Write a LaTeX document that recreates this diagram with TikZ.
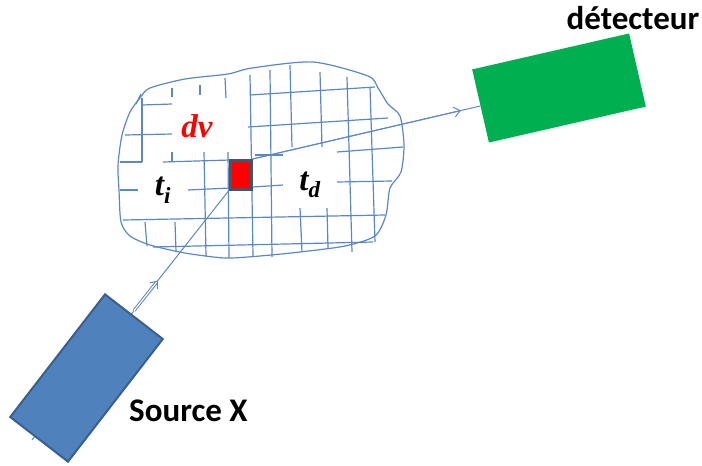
\documentclass[tikz,border=0pt]{standalone}
\usepackage{fontspec}
\usepackage{tikz}
\usetikzlibrary{arrows.meta,calc}
\setmainfont{Liberation Serif}
\newfontfamily\calibri{Carlito}
\definecolor{meshblue}{HTML}{5B87C9}
\definecolor{srcblue}{HTML}{4F81BD}
\definecolor{srcedge}{HTML}{3A5F8F}
\definecolor{detgreen}{HTML}{00B050}
\definecolor{celledge}{HTML}{44546A}
\newcommand{\captionSize}[0]{\fontsize{33}{36}\selectfont}
\newcommand{\symbolSize}[0]{\fontsize{33}{36}\selectfont}

\begin{document}
\begin{tikzpicture}[x=1pt, y=-1pt]
  \tikzset{mesh/.style={draw=meshblue, line width=1.2pt},
    ray/.style={draw=meshblue, line width=1pt},
    caption/.style={font=\calibri\bfseries\captionSize, inner sep=0pt},
    symbol/.style={font=\bfseries\itshape\symbolSize, inner sep=0pt}}
  \useasboundingbox (0,0) rectangle (702,466);
  % outline of the sample
  \draw[mesh] plot[smooth cycle, tension=0.45] coordinates {
    (150,88) (185,79) (228,74) (252,68) (313,62) (368,76) (378,88)
    (388,104) (400,116) (404,145) (401,172) (390,188) (386,215)
    (375,236) (345,246) (300,252) (260,256) (225,258) (185,253)
    (150,245) (130,236) (121,222) (119,190) (118,165) (122,135)
    (130,112) (140,98)};
  % mesh, vertical lines
  \foreach \xa/\ya/\xb/\yb in {136/104/141/94, 142/98/142/162, 145/222/147/246,
      172/88/172/97, 172/152/172/162, 175/222/176/252, 200/85/200/95,
      204/152/206/256, 225/78/226/98, 228/152/229/258, 250/75/253/256,
      270/70/272/257, 290/65/292/147, 320/72/322/147, 300/208/302/252,
      327/208/328/248, 347/77/352/252, 370/87/375/242}
    \draw[mesh] (\xa,\ya) -- (\xb,\yb);
  % mesh, horizontal lines
  \foreach \xa/\ya/\xb/\yb in {142/105/172/104, 125/135/172/134,
      120/162/142/162, 163/162/230/160, 120/190/138/190, 188/190/230/188,
      123/220/385/215, 153/247/373/242, 250/95/375/87, 248/127/388/118,
      253/187/283/185, 255/155/283/155, 337/152/403/147, 337/182/392/181}
    \draw[mesh] (\xa,\ya) -- (\xb,\yb);
  \node[draw=celledge, fill=red, line width=3pt, minimum width=21pt,
    minimum height=29pt, inner sep=0pt] (cell) at (240.5,175) {};
  \node[fill=detgreen, minimum width=161pt, minimum height=75pt,
    rotate=12.9] (det) at (559,88) {};
  % incoming beam
  \coordinate (tail) at (32,440);
  \draw[ray] (tail) -- (cell.south west);
  \node[draw=srcedge, fill=srcblue, line width=2pt, minimum width=73pt,
    minimum height=155pt, rotate=-37.7] (source) at (86.5,378) {};
  \draw[ray, double, double distance=1.2pt, -{Straight Barb[length=6pt, width=10pt]}]
    ($(tail)!0.52!(cell.south west)$) -- ($(tail)!0.64!(cell.south west)$);
  % scattered beam
  \draw[ray] (cell.north east) -- (det.west);
  \draw[ray, -{Straight Barb[length=6pt, width=10pt]}]
    (cell.north east) -- ($(det.west)!20pt!(cell.north east)$);
  % labels
  \node[symbol, text=red] (dv) at (197,126) {dv};
  \node[symbol] (ti) at (163,190) {t\textsubscript{i}};
  \node[symbol] (td) at (310,185) {t\textsubscript{d}};
  \node[caption, anchor=west] (srclabel) at (129,411) {Source X};
  \node[caption] (detlabel) at (633,18) {détecteur};
\end{tikzpicture}
\end{document}
